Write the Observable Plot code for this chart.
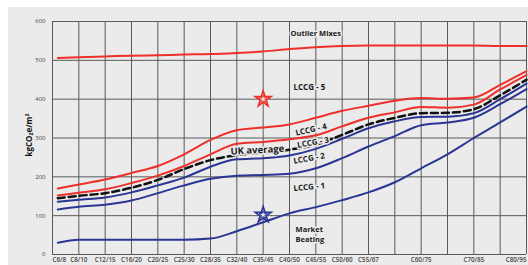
<!DOCTYPE html>
<html>
<head>
<meta charset="utf-8">
<script src="https://cdn.jsdelivr.net/npm/d3@7"></script>
<script src="https://cdn.jsdelivr.net/npm/@observablehq/plot@0.6"></script>
<style>
  html, body { margin: 0; padding: 0; background: #ffffff; }
  #chart { position: absolute; left: 8px; top: 7px; }
  #chart svg { overflow: visible; }
</style>
</head>
<body>
<div id="chart"></div>
<script>
// ---- data ----
const xLabels = ["C6/8","C8/10","C12/15","C16/20","C20/25","C25/30","C28/35","C32/40","C35/45","C40/50","C45/55","C50/60","C55/67","","C60/75","","C70/85","","C80/95"];
const xPos = [0.2,1,2,3,4,5,6,7,8,9,10,11,12,13,14,15,16,17,18];
const outlierMixes = [506,508,510,512,513,515,516,519,523,529,534,537,538,538,538,538,538,537,537];
const lccg4Upper   = [170,180,193,210,228,258,295,320,327,335,352,370,383,396,403,401,404,437,472];
const lccg3Upper   = [152,159,168,184,203,228,258,285,290,297,307,330,352,366,380,378,386,425,462];
const ukAverage    = [145,151,158,172,192,220,243,256,262,270,283,308,335,352,364,365,374,410,450];
const lccg2Upper   = [136,141,147,160,178,198,226,245,248,255,272,298,325,343,354,355,364,400,440];
const lccg1Upper   = [116,123,128,139,158,178,195,203,205,208,222,248,278,305,333,340,352,387,426];
const marketBeating= [30,38,38,38,38,38,41,60,83,106,122,140,160,186,222,258,300,340,381];
const yTicks = [0,100,200,300,400,500,600];
const labelTexts = ["Outlier Mixes","LCCG - 5","LCCG - 4","LCCG - 3","UK average","LCCG - 2","LCCG - 1","Market\nBeating"];
const labelX = [9.04,9.15,9.23,9.3,6.76,9.15,9.15,9.23];
const labelY = [569,430,312,281,265,240,170,54];
const starX = [8,8];
const starY = [400,102];

// ---- build ----
const RED = "#ee2f2a", BLUE = "#2b3594";
const FONT = "Open Sans";
const series = (vals) => xPos.map((x, i) => ({x, y: vals[i]}));
const labels = labelTexts.map((t, i) => ({text: t, x: labelX[i], y: labelY[i]}));
const tickData = xLabels.map((t, i) => ({i, t})).filter(d => d.t !== "");
const BG = "#ebebec";
const lbl = (idx, opts) => Plot.text([labels[idx]], {x: "x", y: "y", text: "text", textAnchor: "start",
  fontFamily: FONT, fontWeight: 700, fill: "#1b1b1b", stroke: BG, strokeWidth: 3, ...opts});

const chart = Plot.plot({
  width: 520, height: 258,
  marginLeft: 44, marginRight: 2, marginTop: 14, marginBottom: 11,
  style: {background: BG, fontFamily: FONT, fontSize: "6px", color: "#444", overflow: "visible"},
  x: {type: "linear", domain: [0, 18], axis: null},
  y: {domain: [0, 600], ticks: yTicks, tickSize: 0, tickPadding: 7, label: null},
  marks: [
    Plot.ruleX(d3.range(0, 19), {stroke: "#5a5a5a", strokeWidth: 1}),
    Plot.ruleY(yTicks, {stroke: "#5a5a5a", strokeWidth: 1}),
    Plot.text(tickData, {x: "i", frameAnchor: "bottom", text: "t", dy: 7, fontSize: 6.3, fontWeight: 600, fill: "#444",
      textAnchor: "middle"}),
    Plot.line(series(marketBeating), {x: "x", y: "y", stroke: BLUE, strokeWidth: 2, curve: "monotone-x"}),
    Plot.line(series(lccg1Upper), {x: "x", y: "y", stroke: BLUE, strokeWidth: 2, curve: "monotone-x"}),
    Plot.line(series(lccg2Upper), {x: "x", y: "y", stroke: BLUE, strokeWidth: 2, curve: "monotone-x"}),
    Plot.line(series(ukAverage), {x: "x", y: "y", stroke: "#111", strokeWidth: 2.5, strokeDasharray: "7,4", curve: "monotone-x"}),
    Plot.line(series(lccg3Upper), {x: "x", y: "y", stroke: RED, strokeWidth: 2, curve: "monotone-x"}),
    Plot.line(series(lccg4Upper), {x: "x", y: "y", stroke: RED, strokeWidth: 2, curve: "monotone-x"}),
    Plot.line(series(outlierMixes), {x: "x", y: "y", stroke: RED, strokeWidth: 2, curve: "monotone-x"}),
    lbl(0, {fontSize: 7.5}),
    lbl(1, {fontSize: 8}),
    lbl(2, {fontSize: 8, rotate: -13}),
    lbl(3, {fontSize: 8, rotate: -10}),
    lbl(4, {fontSize: 9.5, rotate: -3}),
    lbl(5, {fontSize: 8, rotate: -10}),
    lbl(6, {fontSize: 8, rotate: -5}),
    lbl(7, {fontSize: 7.5, lineHeight: 1.3}),
    Plot.dot([{x: starX[0], y: starY[0]}], {x: "x", y: "y", symbol: "star", r: 5, stroke: RED, strokeWidth: 1.6, fill: BG}),
    Plot.dot([{x: starX[0], y: starY[0]}], {x: "x", y: "y", symbol: "star", r: 2.6, stroke: RED, strokeWidth: 0.9, fill: "none"}),
    Plot.dot([{x: starX[1], y: starY[1]}], {x: "x", y: "y", symbol: "star", r: 5, stroke: BLUE, strokeWidth: 1.6, fill: BG}),
    Plot.dot([{x: starX[1], y: starY[1]}], {x: "x", y: "y", symbol: "star", r: 2.6, stroke: BLUE, strokeWidth: 0.9, fill: "none"}),
    Plot.text(["kgCO₂e/m²"], {frameAnchor: "left", text: d => d, rotate: -90, dx: -23, dy: -3, textAnchor: "middle",
      fontFamily: FONT, fontWeight: 700, fontSize: 8, fill: "#111"})
  ]
});
// nudge first and last tick labels inward like the reference
const tickNodes = chart.querySelectorAll('g[aria-label="text"]')[0].querySelectorAll("text");
if (tickNodes.length) {
  tickNodes[0].setAttribute("text-anchor", "start");
  tickNodes[tickNodes.length - 1].setAttribute("text-anchor", "end");
}
document.getElementById("chart").appendChild(chart);
</script>
</body>
</html>
